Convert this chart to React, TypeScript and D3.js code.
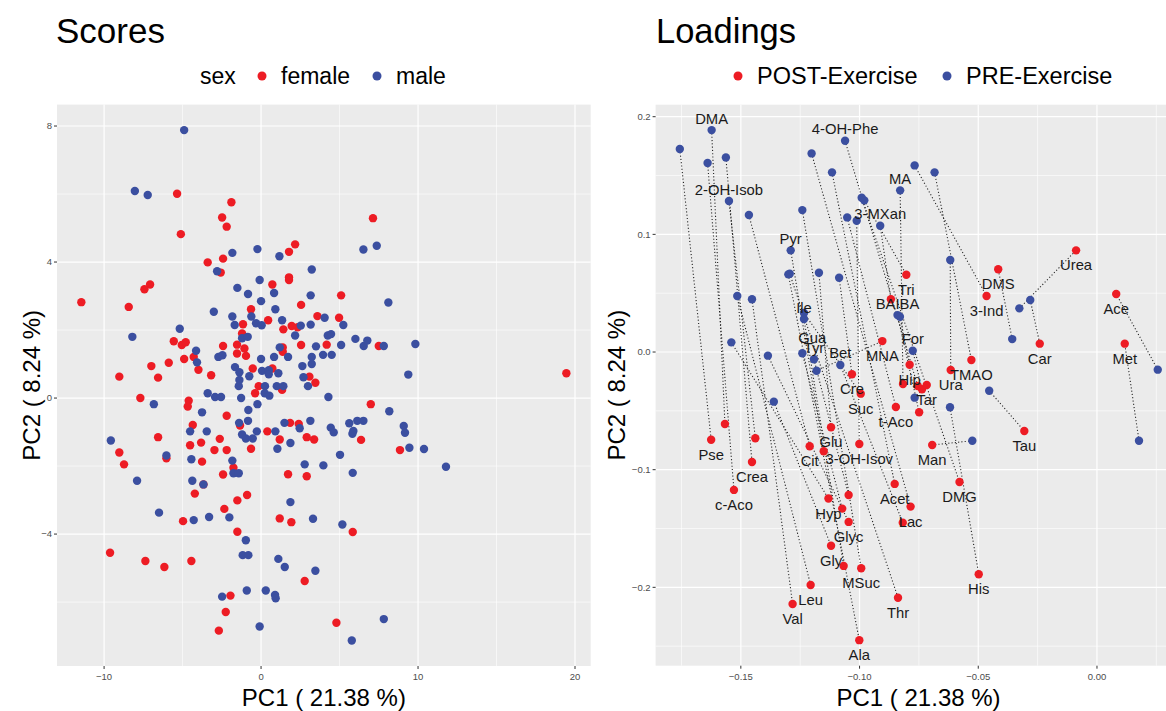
import React from "react";
import * as d3 from "d3";

const RED = "#ED1C24";
const BLUE = "#3B4FA0";
const FONT = "'Liberation Sans', Arial, Helvetica, sans-serif";

// ---------- Scores data (PC1, PC2) ----------
const femaleScores: [number, number][] = [
  [-5.35, 6.01], [-1.89, 5.76], [-2.48, 5.31], [-2.19, 5.04], [-5.11, 4.82], [2.17, 4.52], [1.78, 4.3],
  [-2.42, 4.1], [-3.4, 3.99], [-2.57, 3.69], [1.78, 3.55], [1.78, 3.47], [0.72, 3.34], [-7.07, 3.34],
  [-7.43, 3.2], [-11.45, 2.82], [-8.43, 2.68], [2.55, 2.74], [-0.64, 2.61], [-1.15, 2.17], [0.45, 2.29],
  [3.59, 2.41], [1.42, 2.02], [1.95, 2.12], [2.33, 2.08], [-1.21, 1.9], [-5.56, 1.67], [-5.05, 1.56],
  [-4.8, 1.64], [-2.42, 1.53], [-1.53, 1.57], [-1.06, 1.46], [-1.53, 1.31], [-0.96, 1.24], [1.38, 1.49],
  [1.38, 1.36], [2.55, 1.56], [4.18, 1.57], [-4.29, 1.21], [-4.9, 1.15], [-3.99, 0.83], [-5.88, 1.04],
  [-6.99, 0.94], [-6.56, 0.6], [-9.03, 0.63], [-3.18, 0.67], [-0.53, 0.87], [0.72, 0.87], [3.08, 0.63],
  [3.46, 0.45], [-0.15, 0.35], [7.13, 5.29], [5.1, 3.02], [4.97, 2.36], [7.5, 1.53], [19.45, 0.73],
  [-7.69, 0], [-4.61, -0.08], [-4.67, -0.25], [-0.38, 0.14], [1.34, 0.24], [-2.19, -0.52], [-1.34, -0.81],
  [-4.35, -0.79], [0.4, -0.98], [1.85, -0.73], [2.4, -0.76], [2.91, -1.15], [3.38, -1.22], [1.19, -1.22],
  [-0.64, -1.49], [-2.63, -1.2], [-3.82, -1.31], [-4.52, -1.39], [-2.97, -1.53], [-2.19, -1.53],
  [-6.56, -1.15], [-9.03, -1.6], [-8.73, -1.95], [-6.03, -1.77], [-3.76, -1.87], [-1.76, -2.05],
  [-2.42, -2.25], [-3.67, -2.54], [-4.22, -2.81], [-0.89, -2.85], [-1.51, -3.01], [1.72, -2.24],
  [2.91, -2.3], [-4.97, -3.62], [-2.34, -3.26], [1.19, -3.54], [1.93, -3.65], [-1.51, -3.93],
  [-9.62, -4.55], [-7.37, -4.79], [-6.16, -4.97], [-4.44, -4.79], [2.78, -5.38], [-1.95, -5.81],
  [-2.25, -6.29], [-2.69, -6.84], [6.99, -0.18], [6.37, -1.23], [8.85, -1.53], [5.84, -3.94], [4.8, -6.61],
];

const maleScores: [number, number][] = [
  [-4.9, 7.88], [-8.04, 6.09], [-7.22, 5.97], [-0.23, 4.38], [1.17, 4.17], [-1.83, 4.27], [-2.8, 3.73],
  [3.23, 3.78], [-0.09, 3.47], [-1.51, 3.24], [-0.83, 3.06], [0.83, 3.09], [3.16, 3.02], [0, 2.85],
  [0.91, 2.61], [-3.01, 2.54], [-1.83, 2.4], [-0.62, 2.4], [1.34, 2.29], [4.05, 2.36], [-1.68, 2.15],
  [-0.32, 2.2], [0.04, 2.14], [2.53, 2.13], [3.16, 2.16], [-5.18, 2.04], [-8.2, 1.8], [-1.21, 1.76],
  [-0.85, 1.8], [2.17, 1.84], [4.25, 1.84], [1.19, 1.49], [3.5, 1.52], [3.95, 1.27], [-4.14, 1.39],
  [-4.08, 1.05], [-2.72, 1.21], [-2.46, 1.26], [0, 1.15], [0.83, 1.21], [1.72, 1.21], [3.23, 1.21],
  [3.23, 1.0], [2.63, 0.94], [-1.66, 0.91], [-1.38, 0.76], [-0.75, 0.64], [0.06, 0.8], [0.49, 0.82],
  [0.49, 0.7], [1.1, 0.73], [2.7, 0.61], [2.99, 0.35], [-1.42, 0.35], [-1.38, 0.53], [0.25, 0.35],
  [1.0, 0.35], [1.42, 0.35], [6.52, 4.37], [7.37, 4.48], [8.11, 2.81], [5.24, 2.15], [4.46, 1.88],
  [6.01, 1.74], [6.54, 1.53], [6.77, 1.69], [7.82, 1.53], [9.83, 1.59], [5.1, 1.56], [4.5, 1.27],
  [9.38, 0.69], [-6.83, -0.18], [-3.76, -0.42], [-3.4, 0.14], [-2.93, 0.03], [-2.55, 0.03], [-1.27, 0],
  [0.23, 0.14], [0.53, 0.07], [-0.23, -0.18], [-0.81, -0.35], [-0.83, -0.67], [-1.4, -0.73],
  [-4.52, -0.98], [-3.46, -0.98], [-0.27, -0.98], [-1.21, -1.07], [-0.97, -1.19], [-0.53, -1.19],
  [0.91, -0.98], [1.49, -0.73], [2.46, -0.89], [3.14, -0.67], [1.87, -1.32], [1.04, -1.49],
  [-9.57, -1.25], [-6.03, -1.69], [-4.44, -1.8], [-1.83, -1.84], [-1.76, -2.21], [-1.42, -2.21],
  [-7.9, -2.43], [-4.38, -2.43], [-3.67, -2.54], [2.78, -1.95], [3.97, -1.98], [1.87, -3.06],
  [-6.5, -3.37], [-4.29, -3.59], [-3.31, -3.5], [-2.02, -3.51], [3.31, -3.55], [-0.97, -4.18],
  [-1.17, -4.62], [-0.81, -4.62], [1.1, -4.73], [1.51, -4.97], [3.46, -5.08], [-0.91, -5.66],
  [0.3, -5.66], [0.89, -5.79], [0.93, -5.89], [-2.48, -5.84], [-0.09, -6.72], [4.29, 0.03],
  [8.17, -0.39], [5.62, -0.74], [6.13, -0.67], [6.52, -0.67], [4.44, -0.87], [4.63, -1.01],
  [5.88, -0.97], [5.82, -1.05], [9.09, -0.82], [9.17, -1.02], [9.45, -1.46], [10.38, -1.5],
  [11.78, -2.02], [5.03, -1.67], [5.84, -2.2], [5.18, -3.72], [7.82, -6.5], [5.78, -7.13],
];

// ---------- Loadings data ----------
const metabolites = [
  "DMA", "4-OH-Phe", "2-OH-Isob", "MA", "3-MXan", "Pyr", "BAIBA", "Ile", "Gua", "Tyr", "Bet", "For",
  "Tri", "DMS", "Urea", "3-Ind", "Ace", "Met", "Car", "Tau", "MNA", "Cre", "Suc", "Hip", "Ura", "TMAO",
  "Tar", "t-Aco", "Glu", "3-OH-Isov", "Cit", "Pse", "Crea", "c-Aco", "Man", "DMG", "Acet", "Lac", "Hyp",
  "Glyc", "Gly", "MSuc", "Leu", "Val", "Thr", "His", "Ala",
];
const prePC1 = [
  -0.1623, -0.1061, -0.155, -0.0829, -0.0913, -0.129, -0.084, -0.1234, -0.1241, -0.1192, -0.1081, -0.0776,
  -0.098, -0.0357, -0.0327, -0.0768, 0.0256, 0.0177, -0.0281, -0.0454, -0.1181, -0.1086, -0.1234, -0.083,
  -0.0618, -0.0684, -0.0768, -0.1052, -0.1171, -0.1012, -0.1466, -0.1757, -0.1563, -0.164, -0.0525,
  -0.0991, -0.1116, -0.1202, -0.154, -0.1386, -0.1361, -0.1241, -0.1515, -0.1453, -0.1294, -0.0619, -0.13,
];
const prePC2 = [
  0.1886, 0.1795, 0.1283, 0.1374, 0.1073, 0.0864, 0.0314, 0.028, -0.0011, -0.0062, -0.011, 0.0011,
  0.1289, 0.011, 0.0371, 0.1586, -0.015, -0.0754, 0.0442, -0.0329, -0.0159, 0.0631, 0.0331, 0.03,
  0.0782, 0.1527, -0.0388, 0.1144, 0.0674, 0.1116, 0.1164, 0.1725, 0.1654, 0.1606, -0.0754,
  0.1311, 0.1527, 0.1688, 0.0082, -0.0031, -0.0422, 0.1206, 0.0476, 0.0448, 0.0665, -0.047, 0.066,
];
const postPC1 = [
  -0.1567, -0.0755, -0.1439, -0.0817, -0.0868, -0.1151, -0.0749, -0.1067, -0.1073, -0.1046, -0.0818, -0.0737,
  -0.0803, -0.0416, -0.0088, -0.0465, 0.0081, 0.0117, -0.0241, -0.0306, -0.0904, -0.1032, -0.0995, -0.0789,
  -0.0616, -0.0529, -0.0717, -0.0847, -0.112, -0.1001, -0.121, -0.1625, -0.1453, -0.1529, -0.0694,
  -0.0579, -0.0852, -0.0785, -0.1131, -0.1046, -0.112, -0.0993, -0.1206, -0.1282, -0.0838, -0.0498, -0.1001,
];
const postPC2 = [
  -0.0612, -0.0289, -0.0733, -0.0272, 0.0448, -0.0844, -0.0512, -0.1818, -0.1331, -0.1215, -0.145, -0.0317,
  0.0657, 0.0703, 0.0864, 0.0476, 0.0493, 0.0071, 0.0071, -0.0671, 0.0093, -0.0189, -0.0354, -0.0108,
  -0.0153, -0.0068, -0.028, -0.0467, -0.064, -0.0782, -0.0801, -0.0745, -0.0935, -0.1172, -0.079,
  -0.1105, -0.1121, -0.1314, -0.1245, -0.1444, -0.1646, -0.1838, -0.198, -0.2141, -0.2088, -0.1889, -0.2449,
];
// which point of the pair carries the text label
const labelOn = [
  "pre", "pre", "pre", "pre", "pre", "pre", "pre", "pre", "pre", "pre", "pre", "pre",
  "post", "post", "post", "post", "post", "post", "post", "post", "post", "post", "post", "post", "post", "post",
  "post", "post", "post", "post", "post", "post", "post", "post", "post", "post", "post", "post", "post",
  "post", "post", "post", "post", "post", "post", "post", "post",
];

const scoreXTicks = [-10, 0, 10, 20];
const scoreXMinor = [-5, 5, 15];
const scoreYTicks = [-4, 0, 4, 8];
const scoreYMinor = [-6, -2, 2, 6];
const loadXTicks = [-0.15, -0.1, -0.05, 0.0];
const loadXMinor = [-0.175, -0.125, -0.075, -0.025, 0.025];
const loadYTicks = [-0.2, -0.1, 0.0, 0.1, 0.2];
const loadYMinor = [-0.25, -0.15, -0.05, 0.05, 0.15];

type Scale = d3.ScaleLinear<number, number>;

function PanelFrame(props: {
  xs: Scale; ys: Scale; xMajor: number[]; xMinor: number[]; yMajor: number[]; yMinor: number[];
  fmtX: (v: number) => string; fmtY: (v: number) => string;
}) {
  const { xs, ys, xMajor, xMinor, yMajor, yMinor, fmtX, fmtY } = props;
  const [xa, xb] = xs.range();
  const [yb, ya] = ys.range();
  return (
    <g>
      <rect x={xa} y={ya} width={xb - xa} height={yb - ya} fill="#EBEBEB" />
      {xMinor.map((v) => (
        <line key={"xm" + v} x1={xs(v)} x2={xs(v)} y1={ya} y2={yb} stroke="#fff" strokeWidth={0.6} />
      ))}
      {yMinor.map((v) => (
        <line key={"ym" + v} x1={xa} x2={xb} y1={ys(v)} y2={ys(v)} stroke="#fff" strokeWidth={0.6} />
      ))}
      {xMajor.map((v) => (
        <line key={"xM" + v} x1={xs(v)} x2={xs(v)} y1={ya} y2={yb} stroke="#fff" strokeWidth={1.2} />
      ))}
      {yMajor.map((v) => (
        <line key={"yM" + v} x1={xa} x2={xb} y1={ys(v)} y2={ys(v)} stroke="#fff" strokeWidth={1.2} />
      ))}
      {xMajor.map((v) => (
        <g key={"xt" + v}>
          <line x1={xs(v)} x2={xs(v)} y1={yb} y2={yb + 3} stroke="#333" strokeWidth={1} />
          <text x={xs(v)} y={yb + 14} textAnchor="middle" fontSize={9.5} fill="#4D4D4D" fontFamily={FONT}>
            {fmtX(v)}
          </text>
        </g>
      ))}
      {yMajor.map((v) => (
        <g key={"yt" + v}>
          <line x1={xa - 3} x2={xa} y1={ys(v)} y2={ys(v)} stroke="#333" strokeWidth={1} />
          <text x={xa - 5} y={ys(v) + 3.4} textAnchor="end" fontSize={9.5} fill="#4D4D4D" fontFamily={FONT}>
            {fmtY(v)}
          </text>
        </g>
      ))}
    </g>
  );
}

export default function App() {
  // Scores panel scales
  const sx = d3.scaleLinear().domain([-13.0, 21.0]).range([57, 590.7]);
  const sy = d3.scaleLinear().domain([-7.88, 8.63]).range([666, 104.6]);
  // Loadings panel scales
  const lx = d3.scaleLinear().domain([-0.1859, 0.0356]).range([655.6, 1181.5]);
  const ly = d3.scaleLinear().domain([-0.2666, 0.2102]).range([665.7, 104.7]);

  const fmtInt = d3.format("d");
  const fmt2 = (v: number) => (Math.abs(v) < 1e-9 ? "0.00" : d3.format(".2f")(v));
  const fmt1 = (v: number) => (Math.abs(v) < 1e-9 ? "0.0" : d3.format(".1f")(v));

  const loadings = metabolites.map((name, i) => ({
    name,
    pre: [prePC1[i], prePC2[i]] as [number, number],
    post: [postPC1[i], postPC2[i]] as [number, number],
    side: labelOn[i],
  }));

  const labelNudge: Record<string, [number, number]> = { Gua: [10, -4] };

  const sxMid = (sx.range()[0] + sx.range()[1]) / 2;
  const syMid = (sy.range()[0] + sy.range()[1]) / 2;
  const lxMid = (lx.range()[0] + lx.range()[1]) / 2;
  const lyMid = (ly.range()[0] + ly.range()[1]) / 2;

  return (
    <div style={{ position: "absolute", left: 0, top: 0 }}>
      <svg width={1166} height={711} style={{ display: "block", background: "#fff" }} fontFamily={FONT}>
        <rect x={0} y={0} width={1166} height={711} fill="#fff" />
        {/* ---------- Scores ---------- */}
        <text x={56} y={43} fontSize={35} fill="#000">Scores</text>
        <text x={200} y={84} fontSize={23} fill="#000">sex</text>
        <circle cx={262} cy={76} r={4.5} fill={RED} />
        <text x={281} y={84} fontSize={23} fill="#000">female</text>
        <circle cx={377} cy={76} r={4.5} fill={BLUE} />
        <text x={396} y={84} fontSize={23} fill="#000">male</text>

        <PanelFrame xs={sx} ys={sy} xMajor={scoreXTicks} xMinor={scoreXMinor} yMajor={scoreYTicks}
          yMinor={scoreYMinor} fmtX={fmtInt} fmtY={fmtInt} />
        {femaleScores.map((d, i) => (
          <circle key={"f" + i} cx={sx(d[0])} cy={sy(d[1])} r={4.2} fill={RED} />
        ))}
        {maleScores.map((d, i) => (
          <circle key={"m" + i} cx={sx(d[0])} cy={sy(d[1])} r={4.2} fill={BLUE} />
        ))}
        <text x={sxMid} y={706} textAnchor="middle" fontSize={24} fill="#000">PC1 ( 21.38 %)</text>
        <text transform={`translate(40,${syMid}) rotate(-90)`} textAnchor="middle" fontSize={24} fill="#000">
          PC2 ( 8.24 %)
        </text>

        {/* ---------- Loadings ---------- */}
        <text x={656} y={43} fontSize={34.5} fill="#000">Loadings</text>
        <circle cx={738} cy={76} r={4.5} fill={RED} />
        <text x={757} y={84} fontSize={23.5} fill="#000">POST-Exercise</text>
        <circle cx={947} cy={76} r={4.5} fill={BLUE} />
        <text x={966} y={84} fontSize={23.5} fill="#000">PRE-Exercise</text>

        <PanelFrame xs={lx} ys={ly} xMajor={loadXTicks} xMinor={loadXMinor} yMajor={loadYTicks}
          yMinor={loadYMinor} fmtX={fmt2} fmtY={fmt1} />
        {loadings.map((d) => (
          <line key={"l" + d.name} x1={lx(d.pre[0])} y1={ly(d.pre[1])} x2={lx(d.post[0])} y2={ly(d.post[1])}
            stroke="#222" strokeWidth={1.1} strokeDasharray="1.1 2.2" />
        ))}
        {loadings.map((d) => (
          <circle key={"po" + d.name} cx={lx(d.post[0])} cy={ly(d.post[1])} r={4.2} fill={RED} />
        ))}
        {loadings.map((d) => (
          <circle key={"pr" + d.name} cx={lx(d.pre[0])} cy={ly(d.pre[1])} r={4.2} fill={BLUE} />
        ))}
        {loadings.map((d) => {
          const p = d.side === "pre" ? d.pre : d.post;
          const base: [number, number] = d.side === "pre" ? [0, -11.5] : [0, 15];
          const n = labelNudge[d.name] || [0, 0];
          return (
            <text key={"t" + d.name} x={lx(p[0]) + base[0] + n[0]} y={ly(p[1]) + base[1] + n[1] + 5}
              textAnchor="middle" fontSize={14.8} fill="#1A1A1A">
              {d.name}
            </text>
          );
        })}
        <text x={lxMid} y={706} textAnchor="middle" fontSize={24} fill="#000">PC1 ( 21.38 %)</text>
        <text transform={`translate(625,${lyMid}) rotate(-90)`} textAnchor="middle" fontSize={24} fill="#000">
          PC2 ( 8.24 %)
        </text>
      </svg>
    </div>
  );
}
